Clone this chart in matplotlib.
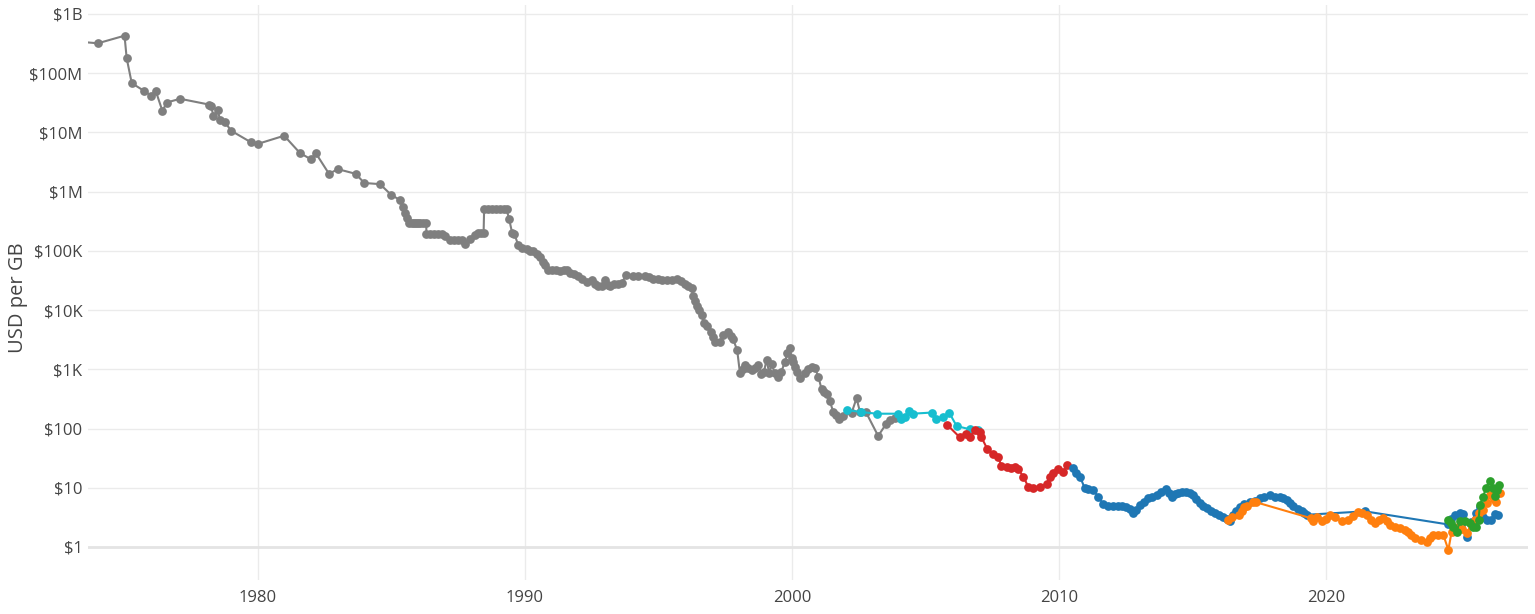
import numpy as np
import matplotlib
matplotlib.use("Agg")
import matplotlib.pyplot as plt
from matplotlib.ticker import FixedLocator, NullLocator

plt.rcParams['font.family'] = ['Open Sans', 'DejaVu Sans']

# historical DRAM price, USD per GB
gray_year = [1973.0, 1974.0, 1975.0, 1975.08, 1975.27, 1975.74, 1975.99, 1976.17, 1976.42, 1976.58,
             1977.08, 1978.16, 1978.24, 1978.33, 1978.49, 1978.58, 1978.76, 1978.99, 1979.74, 1979.99,
             1980.98, 1981.57, 1981.99, 1982.16, 1982.66, 1982.99, 1983.66, 1983.98, 1984.57, 1984.98,
             1985.32, 1985.42, 1985.51, 1985.57, 1985.67, 1985.75, 1985.83, 1985.92, 1986.0, 1986.08,
             1986.17, 1986.3, 1986.31, 1986.45, 1986.6, 1986.75, 1986.88, 1987.0, 1987.19, 1987.35,
             1987.5, 1987.63, 1987.75, 1987.94, 1988.13, 1988.25, 1988.36, 1988.45, 1988.47, 1988.6,
             1988.75, 1988.9, 1989.05, 1989.2, 1989.31, 1989.41, 1989.52, 1989.6, 1989.75, 1989.9,
             1990.06, 1990.2, 1990.31, 1990.45, 1990.56, 1990.66, 1990.75, 1990.87, 1991.0, 1991.15,
             1991.3, 1991.45, 1991.56, 1991.69, 1991.85, 1992.0, 1992.15, 1992.31, 1992.5, 1992.62,
             1992.75, 1992.9, 1993.0, 1993.1, 1993.18, 1993.35, 1993.5, 1993.62, 1993.8, 1994.06,
             1994.25, 1994.49, 1994.65, 1994.81, 1995.0, 1995.15, 1995.31, 1995.5, 1995.68, 1995.85,
             1995.99, 1996.12, 1996.24, 1996.3, 1996.37, 1996.43, 1996.52, 1996.62, 1996.72, 1996.8,
             1996.95, 1997.05, 1997.12, 1997.3, 1997.43, 1997.61, 1997.72, 1997.8, 1997.95, 1998.05,
             1998.15, 1998.24, 1998.35, 1998.49, 1998.62, 1998.74, 1998.86, 1998.95, 1999.05, 1999.15,
             1999.24, 1999.35, 1999.49, 1999.6, 1999.74, 1999.83, 1999.91, 1999.99, 2000.05, 2000.11,
             2000.2, 2000.3, 2000.49, 2000.62, 2000.74, 2000.86, 2000.99, 2001.11, 2001.2, 2001.3,
             2001.42, 2001.55, 2001.65, 2001.77, 2001.9, 2002.24, 2002.42, 2002.55, 2002.77, 2003.23,
             2003.52, 2003.67, 2003.86]
gray_price = [3.5e8, 3.2e8, 4.3e8, 1.8e8, 6.8e7, 5.0e7, 4.2e7, 5.0e7, 2.3e7, 3.2e7,
              3.7e7, 2.96e7, 2.8e7, 1.9e7, 2.4e7, 1.6e7, 1.5e7, 1.07e7, 6.8e6, 6.4e6,
              8.8e6, 4.5e6, 3.5e6, 4.5e6, 2.0e6, 2.4e6, 2.0e6, 1.4e6, 1.34e6, 8.9e5,
              7.2e5, 5.5e5, 4.4e5, 3.6e5, 3.0e5, 3.0e5, 3.0e5, 3.0e5, 3.0e5, 3.0e5,
              3.0e5, 3.0e5, 1.92e5, 1.92e5, 1.92e5, 1.92e5, 1.92e5, 1.75e5, 1.55e5, 1.55e5,
              1.55e5, 1.55e5, 1.3e5, 1.6e5, 1.86e5, 2.0e5, 2.0e5, 2.0e5, 5.0e5, 5.0e5,
              5.0e5, 5.0e5, 5.0e5, 5.0e5, 5.0e5, 3.4e5, 2.0e5, 1.95e5, 1.24e5, 1.12e5,
              1.07e5, 1.0e5, 1.0e5, 9.0e4, 8.0e4, 6.6e4, 5.8e4, 4.8e4, 4.7e4, 4.7e4,
              4.6e4, 4.7e4, 4.7e4, 4.3e4, 4.0e4, 3.7e4, 3.4e4, 3.0e4, 3.2e4, 2.8e4,
              2.6e4, 2.6e4, 3.2e4, 2.7e4, 2.6e4, 2.75e4, 2.8e4, 2.9e4, 3.9e4, 3.7e4,
              3.7e4, 3.8e4, 3.6e4, 3.4e4, 3.3e4, 3.2e4, 3.2e4, 3.2e4, 3.3e4, 3.1e4,
              2.8e4, 2.6e4, 2.4e4, 1.7e4, 1.4e4, 1.15e4, 1.0e4, 8.3e3, 6.0e3, 5.3e3,
              4.3e3, 3.5e3, 2.9e3, 2.9e3, 3.8e3, 4.2e3, 3.6e3, 3.2e3, 2.1e3, 880,
              1000, 1200, 1050, 980, 1050, 1180, 840, 900, 1450, 850,
              1230, 880, 755, 900, 1350, 1870, 2300, 1550, 1350, 1100,
              900, 710, 850, 1000, 1100, 1050, 755, 460, 420, 380,
              290, 190, 170, 143, 160, 186, 325, 190, 190, 75,
              118, 140, 150]

# DDR
cyan_year = [2002.05, 2002.6, 2003.17, 2003.98, 2004.07, 2004.23, 2004.39, 2004.52, 2005.23, 2005.39,
             2005.67, 2005.89, 2006.17, 2006.67, 2006.98]
cyan_price = [205, 190, 178, 178, 143, 155, 200, 178, 186, 143,
              155, 186, 110, 97, 95]

# DDR2
red_year = [2005.82, 2006.29, 2006.52, 2006.67, 2006.85, 2007.04, 2007.1, 2007.31, 2007.54, 2007.73,
            2007.85, 2008.04, 2008.2, 2008.35, 2008.48, 2008.67, 2008.85, 2009.04, 2009.29, 2009.54,
            2009.66, 2009.79, 2009.98, 2010.17, 2010.32]
red_price = [115, 71, 81, 71, 95, 89, 71, 46, 37, 33,
             23, 22, 21.5, 22, 20.5, 15.4, 10.4, 9.8, 10.4, 11.4,
             15.4, 18, 20.5, 18.7, 24]

# DDR3
blue_year = [2010.51, 2010.65, 2010.79, 2010.97, 2011.1, 2011.28, 2011.47, 2011.66, 2011.85, 2012.03,
             2012.2, 2012.35, 2012.53, 2012.66, 2012.78, 2012.9, 2013.03, 2013.2, 2013.35, 2013.5,
             2013.66, 2013.84, 2014.03, 2014.12, 2014.22, 2014.35, 2014.47, 2014.62, 2014.78, 2014.9,
             2015.03, 2015.15, 2015.28, 2015.4, 2015.53, 2015.7, 2015.84, 2016.0, 2016.15, 2016.28,
             2016.4, 2016.53, 2016.65, 2016.78, 2016.95, 2017.15, 2017.35, 2017.53, 2017.7, 2017.9,
             2018.1, 2018.28, 2018.4, 2018.53, 2018.65, 2018.78, 2018.95, 2019.09, 2019.2, 2019.3,
             2021.46, 2024.58, 2024.7, 2024.85, 2025.02, 2025.12, 2025.27, 2025.45, 2025.62, 2025.77,
             2025.9, 2026.02, 2026.2, 2026.32, 2026.45]
blue_price = [21.4, 18, 15.4, 9.8, 9.5, 9.2, 7.1, 5.3, 5.0, 4.9,
              4.9, 4.9, 4.8, 4.3, 3.7, 4.2, 5.1, 5.8, 6.6, 7.0,
              7.6, 8.6, 9.4, 8.2, 7.1, 7.8, 8.3, 8.6, 8.6, 8.2,
              7.6, 6.5, 5.5, 5.0, 4.5, 4.0, 3.7, 3.5, 3.25, 3.0,
              2.7, 3.5, 4.0, 4.8, 5.3, 5.8, 6.0, 6.6, 7.1, 7.4,
              7.1, 6.9, 6.6, 6.2, 5.5, 4.9, 4.4, 4.0, 3.7, 3.5,
              4.0, 2.4, 3.0, 3.4, 3.7, 3.6, 1.45, 2.6, 3.8, 4.8,
              3.2, 2.9, 2.9, 3.6, 3.5]

# DDR4
orange_year = [2016.32, 2016.5, 2016.75, 2016.85, 2016.94, 2017.05, 2017.28, 2017.38, 2019.45, 2019.53,
               2019.66, 2019.84, 2020.0, 2020.15, 2020.34, 2020.59, 2020.84, 2021.0, 2021.21, 2021.35,
               2021.53, 2021.7, 2021.84, 2022.0, 2022.15, 2022.28, 2022.4, 2022.6, 2022.78, 2022.95,
               2023.09, 2023.2, 2023.34, 2023.55, 2023.78, 2023.9, 2024.03, 2024.2, 2024.4, 2024.59,
               2024.71, 2024.96, 2025.1, 2025.27, 2025.45, 2025.58, 2025.75, 2025.89, 2026.02, 2026.14,
               2026.3, 2026.39, 2026.52]
orange_price = [2.9, 3.2, 3.5, 4.0, 4.7, 4.9, 5.8, 5.7, 3.05, 2.7,
                3.25, 2.7, 3.0, 3.5, 3.25, 2.7, 2.9, 3.3, 3.95, 3.7,
                3.5, 2.9, 2.5, 2.8, 3.05, 2.7, 2.35, 2.2, 2.07, 1.9,
                1.8, 1.6, 1.4, 1.3, 1.23, 1.4, 1.6, 1.6, 1.6, 0.89,
                1.8, 2.2, 2.0, 1.7, 2.4, 2.9, 3.7, 4.2, 5.5, 7.6,
                6.5, 5.8, 8.3]

# DDR5
green_year = [2024.58, 2024.68, 2024.77, 2024.9, 2025.02, 2025.2, 2025.39, 2025.5, 2025.64, 2025.72,
              2025.77, 2025.89, 2025.99, 2026.14, 2026.25, 2026.33, 2026.4, 2026.49]
green_price = [2.8, 2.5, 2.2, 1.8, 2.7, 2.7, 2.5, 2.2, 2.2, 2.9,
               5.1, 6.9, 9.8, 13.1, 9.8, 7.3, 9.2, 11.1]

ytick_vals = [1, 10, 100, 1e3, 1e4, 1e5, 1e6, 1e7, 1e8, 1e9]
ytick_labels = ['$1', '$10', '$100', '$1K', '$10K', '$100K', '$1M', '$10M', '$100M', '$1B']
xtick_vals = [1980, 1990, 2000, 2010, 2020]

fig = plt.figure(figsize=(15.35, 6.14), dpi=100)
ax = fig.add_axes([0.0573, 0.0554, 0.9381, 0.9365])

series = [
    (gray_year, gray_price, '#7f7f7f'),
    (cyan_year, cyan_price, '#17becf'),
    (red_year, red_price, '#d62728'),
    (blue_year, blue_price, '#1f77b4'),
    (orange_year, orange_price, '#ff7f0e'),
    (green_year, green_price, '#2ca02c'),
]
for xs, ys, col in series:
    ax.plot(xs, ys, color=col, lw=1.5, marker='o', markersize=6.3, markeredgewidth=0, zorder=3)

ax.set_yscale('log')
ax.set_xlim(1973.63, 2027.57)
ax.set_ylim(0.277, 1.42e9)

ax.yaxis.set_major_locator(FixedLocator(ytick_vals))
ax.yaxis.set_minor_locator(NullLocator())
ax.set_yticklabels(ytick_labels)
ax.set_xticks(xtick_vals)
ax.set_xticklabels([str(v) for v in xtick_vals])

ax.grid(True, color='#ebebeb', lw=1.0, zorder=0)
ax.axhline(1, color='#e4e4e4', lw=2.0, zorder=1)
for s in ax.spines.values():
    s.set_visible(False)
ax.tick_params(axis='both', length=0, labelsize=12, labelcolor='#444444')
ax.tick_params(axis='x', pad=7)
ax.tick_params(axis='y', pad=4)
ax.set_axisbelow(True)

fig.text(18 / 1535, 0.5147, 'USD per GB', rotation=90, ha='center', va='center',
         fontsize=14.5, color='#444444')

fig.savefig('out.png', dpi=100)
